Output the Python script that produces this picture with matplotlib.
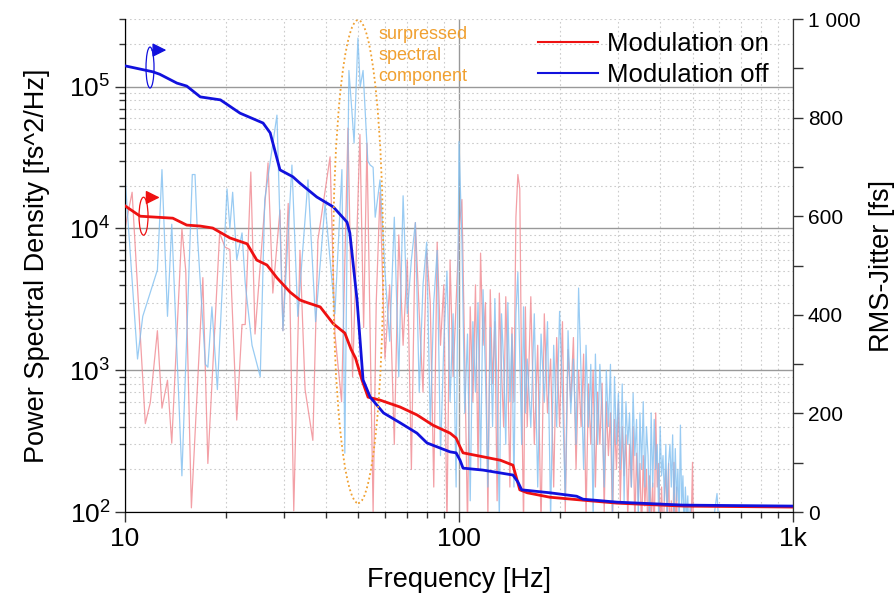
import numpy as np
import matplotlib
matplotlib.use("Agg")
import matplotlib.pyplot as plt
from matplotlib.patches import Ellipse
from matplotlib.ticker import FixedLocator, FuncFormatter, NullFormatter

plt.rcParams["font.family"] = ["Liberation Sans", "DejaVu Sans"]
plt.rcParams["mathtext.fontset"] = "custom"
plt.rcParams["mathtext.rm"] = "Liberation Sans"
plt.rcParams["mathtext.it"] = "Liberation Sans"

# --- PSD, low-frequency part (read vertex by vertex) ---
off_f_lo = [10.0, 10.9, 11.3, 12.5, 12.9, 13.4, 13.8, 14.8, 15.9, 16.2, 16.5, 17.4, 17.7, 18.2, 18.9,
            20.2, 20.6, 21.0, 21.6, 22.4, 22.9, 24.0, 25.4, 26.2, 28.5, 29.7, 31.6, 32.9, 35.3, 37.2,
            39.7, 42.5, 44.6, 45.5, 46.8, 47.8, 48.5, 49.8, 50.6, 51.6, 52.3, 53.3, 54.2, 55.3, 56.1,
            58.0]
off_psd_lo = [2.3e4, 1.2e3, 2.4e3, 5.1e3, 2.6e4, 2.4e3, 1.07e4, 180, 2.4e4, 2.4e4, 8.3e3, 1.1e3, 1.05e3,
              2.8e3, 730, 1.9e4, 1.0e4, 1.8e4, 6.0e3, 9.3e3, 4.1e3, 1.5e3, 900, 1.6e4, 6.3e4, 1.9e3,
              2.8e4, 2.4e3, 2.2e4, 2.2e3, 1.5e4, 2.5e3, 2.6e4, 260, 1.3e5, 6.6e4, 4.0e4, 2.2e5, 1.0e5,
              1.3e5, 7.0e4, 3.0e4, 2.8e4, 2.7e4, 1.2e4, 2.2e4]

on_f_lo = [10.0, 10.5, 11.5, 11.9, 12.5, 12.9, 13.4, 13.8, 14.8, 15.2, 15.8, 17.1, 17.7, 19.2, 19.9,
           20.6, 21.6, 22.4, 22.9, 23.8, 24.5, 26.8, 27.7, 29.1, 29.7, 30.8, 32.0, 33.4, 34.6, 36.5,
           37.8, 41.1, 42.5, 44.5, 46.5, 48.0, 50.5, 51.8, 53.0, 55.3, 56.5, 58.0]
on_psd_lo = [1.0e4, 1.8e4, 420, 590, 1.9e3, 540, 850, 306, 1.0e4, 5.0e3, 107, 4.5e3, 220, 9.3e3, 7.4e3,
             7.1e3, 445, 2.1e3, 2.1e3, 2.5e4, 1.8e3, 2.9e4, 3.5e3, 1.35e4, 1.9e3, 1.5e4, 102, 7.0e3,
             730, 320, 8.3e3, 3.2e4, 1.8e3, 600, 5.1e4, 900, 4.6e4, 2.0e3, 4.0e4, 100, 3.0e3, 1.8e4]

# --- PSD, dense part: 60..160 Hz every 2 Hz, then 164..520 Hz every 4 Hz ---
f_hi = np.concatenate([np.arange(60, 161, 2), np.arange(164, 521, 4)])

off_psd_hi = [5e3, 1.6e3, 1.2e4, 900, 1.7e4, 2.5e3, 6e3, 1.1e4, 700, 4e3,
              8e3, 400, 3e3, 7e3, 250, 1.5e3, 5e3, 600, 2.5e3, 150,
              4.1e4, 8e3, 500, 1.8e3, 120, 2.2e3, 700, 3e3, 200, 3.7e3,
              900, 150, 2.0e3, 400, 3.2e3, 700, 90, 2.5e3, 1.1e3, 300,
              3.0e3, 600, 1.8e3, 150, 2.5e3, 4.9e3, 1.2e3, 300, 2.8e3, 500,
              1.2e3,
              400, 2.5e3, 150, 1.8e3, 600, 2.2e3, 90, 1.5e3, 400, 2.6e3,
              700, 120, 1.9e3, 500, 1.2e3, 300, 3.8e3, 900, 200, 1.5e3,
              400, 1.1e3, 90, 1.3e3, 300, 1.1e3, 500, 150, 1.0e3, 400,
              1.1e3, 100, 900, 300, 690, 200, 800, 120, 600, 300,
              500, 150, 690, 250, 450, 90, 500, 200, 600, 150,
              400, 250, 80, 500, 150, 450, 200, 300, 90, 400,
              180, 250, 120, 300, 90, 220, 300, 150, 350, 100,
              280, 120, 200, 80, 410, 110, 180, 70, 150, 90,
              130, 60, 110, 70, 90, 50, 80, 40, 60, 30]

on_psd_hi = [1.2e3, 4e3, 300, 9e3, 1.5e3, 6e3, 200, 1.1e4, 2.5e3, 700,
             7e3, 3e3, 150, 8e3, 1.5e3, 4e3, 80, 6e3, 900, 3e3,
             9.8e3, 1.6e4, 1.2e3, 80, 2.8e3, 600, 4e3, 200, 6.7e3, 1.5e3,
             3e3, 90, 3.7e3, 800, 2.2e3, 120, 3.5e3, 1.0e3, 400, 3.3e3,
             900, 150, 2.0e3, 600, 1.2e4, 2.4e4, 1.9e4, 700, 80, 2.8e3,
             400,
             3.3e3, 300, 1.5e3, 80, 2.5e3, 500, 1.2e3, 150, 1.7e3, 400,
             2.2e3, 100, 1.4e3, 600, 1.7e3, 200, 1.0e3, 400, 1.3e3, 90,
             800, 300, 1.0e3, 150, 700, 300, 810, 100, 600, 250,
             500, 80, 450, 200, 600, 120, 400, 180, 350, 90,
             300, 150, 400, 80, 260, 120, 220, 70, 250, 110,
             200, 60, 180, 90, 160, 60, 500, 150, 220, 70,
             150, 60, 130, 200, 80, 220, 60, 120, 50, 224,
             60, 150, 40, 70, 30, 60, 40, 100, 50, 80,
             30, 60, 40, 90, 224, 50, 30, 20, 30, 20]

off_f_tail = [530, 560, 592, 610, 650]
off_psd_tail = [40, 50, 135, 40, 20]

# --- integrated RMS jitter (right axis) ---
off_rms_f = [10.0, 12.1, 12.7, 14.3, 15.3, 16.8, 19.3, 22.1, 25.9, 27.2, 29.1, 31.8, 33.4, 37.5, 42.0,
             46.2, 47.1, 49.5, 51.6, 54.2, 59.4, 66.6, 74.8, 80.2, 94.0, 98.0, 100.7, 102.8, 118, 145,
             150, 154, 187, 225, 235, 297, 469, 1000]
off_rms = [905, 893, 888, 870, 864, 842, 836, 809, 789, 769, 694, 680, 667, 639, 619,
           588, 566, 430, 268, 233, 201, 181, 160, 140, 122, 120, 105, 89, 85, 75,
           61, 45, 39, 32, 26, 20, 14, 12]

on_rms_f = [10.0, 11.1, 13.9, 15.3, 16.8, 18.3, 20.6, 23.2, 24.8, 26.6, 28.5, 31.2, 33.4, 35.0, 38.4,
            42.0, 45.5, 47.5, 49.0, 51.2, 53.4, 58.0, 66.6, 74.8, 83.6, 94.0, 98.0, 100.7, 102.8, 118,
            133, 145, 152, 160, 187, 235, 297, 469, 1000]
on_rms = [621, 600, 596, 582, 580, 576, 556, 544, 511, 501, 475, 446, 430, 425, 416,
          382, 363, 330, 312, 268, 233, 227, 213, 197, 176, 160, 150, 132, 120, 112,
          105, 95, 45, 39, 30, 24, 18, 12, 10]

off_f = np.concatenate([off_f_lo, f_hi, off_f_tail])
off_psd = np.concatenate([off_psd_lo, off_psd_hi, off_psd_tail])
on_f = np.concatenate([on_f_lo, f_hi])
on_psd = np.concatenate([on_psd_lo, on_psd_hi])

fig = plt.figure(figsize=(8.95, 5.98), dpi=100)
ax = fig.add_axes([0.1397, 0.1438, 0.7464, 0.8244])

ax.plot(on_f, on_psd, color="#f08890", lw=0.9, alpha=0.8, zorder=2)
ax.plot(off_f, off_psd, color="#80bff0", lw=0.9, alpha=0.8, zorder=2)

ax.set_xscale("log")
ax.set_yscale("log")
ax.set_xlim(10, 1000)
ax.set_ylim(100, 3.0e5)

ax.xaxis.set_major_formatter(FuncFormatter(lambda v, p: {10: "10", 100: "100", 1000: "1k"}.get(int(round(v)), "")))
ax.xaxis.set_minor_formatter(NullFormatter())
ax.yaxis.set_major_formatter(FuncFormatter(lambda v, p: r"$\mathregular{10^{%d}}$" % int(round(np.log10(v)))))
ax.yaxis.set_minor_formatter(NullFormatter())

ax.grid(True, which="major", color="#999999", lw=1.0, ls="-", zorder=1)
ax.grid(True, which="minor", color="#cccccc", lw=0.8, ls=(0, (1.5, 2.5)), zorder=1)
ax.tick_params(which="both", direction="out", labelsize=19, width=1.0, color="#333333")
ax.tick_params(which="major", length=7)
ax.tick_params(which="minor", length=4)
ax.spines["top"].set_visible(False)
for s in ["left", "bottom", "right"]:
    ax.spines[s].set_color("#333333")

ax.set_xlabel("Frequency [Hz]", fontsize=19.5)
ax.set_ylabel("Power Spectral Density [fs^2/Hz]", fontsize=19.5)
ax.xaxis.set_label_coords(0.5, -0.112)
ax.yaxis.set_label_coords(-0.112, 0.5)

ax2 = ax.twinx()
ax2.plot(on_rms_f, on_rms, color="#ee1111", lw=2.0, label="Modulation on", zorder=5)
ax2.plot(off_rms_f, off_rms, color="#1111dd", lw=2.0, label="Modulation off", zorder=5)
ax2.set_ylim(0, 1000)
ax2.yaxis.set_major_locator(FixedLocator([0, 200, 400, 600, 800, 1000]))
ax2.yaxis.set_minor_locator(FixedLocator([100, 300, 500, 700, 900]))
ax2.yaxis.set_major_formatter(FuncFormatter(lambda v, p: "1 000" if v >= 1000 else "%d" % v))
ax2.tick_params(which="both", direction="out", labelsize=15, width=1.0, color="#333333")
ax2.tick_params(which="major", length=7)
ax2.tick_params(which="minor", length=7)
ax2.spines["top"].set_visible(False)
ax2.spines["right"].set_color("#333333")
ax2.set_ylabel("RMS-Jitter [fs]", fontsize=19.5)
ax2.yaxis.set_label_coords(1.113, 0.5)

leg = ax2.legend(loc="upper left", bbox_to_anchor=(0.618, 0.973), frameon=False, fontsize=18.5,
                 handlelength=2.33, handletextpad=0.35, labelspacing=0.25, borderpad=0, borderaxespad=0)
for h in leg.get_lines():
    h.set_linewidth(1.5)

# orange ellipse around the 50 Hz component
ax2.add_patch(Ellipse((0.349, 0.508), 0.075, 0.98, transform=ax2.transAxes, fill=False,
                      ec="#f0a030", lw=1.3, ls=(0, (1, 1.5)), zorder=6))
ax2.text(0.379, 0.985, "surpressed\nspectral\ncomponent", transform=ax2.transAxes, color="#f0a030",
         fontsize=13, va="top", ha="left", linespacing=1.3)

# axis markers: small ellipse + arrow to the right axis
ax2.add_patch(Ellipse((0.0374, 0.9016), 0.012, 0.083, transform=ax2.transAxes, fill=False,
                      ec="#1111dd", lw=0.9, zorder=6))
ax2.annotate("", xy=(0.066, 0.937), xytext=(0.036, 0.937), xycoords="axes fraction",
             arrowprops=dict(arrowstyle="-|>", color="#1111dd", lw=1.0, mutation_scale=21))
ax2.add_patch(Ellipse((0.0277, 0.600), 0.0135, 0.077, transform=ax2.transAxes, fill=False,
                      ec="#ee1111", lw=0.9, zorder=6))
ax2.annotate("", xy=(0.056, 0.638), xytext=(0.029, 0.638), xycoords="axes fraction",
             arrowprops=dict(arrowstyle="-|>", color="#ee1111", lw=1.0, mutation_scale=21))

fig.savefig("out.png", dpi=100)
